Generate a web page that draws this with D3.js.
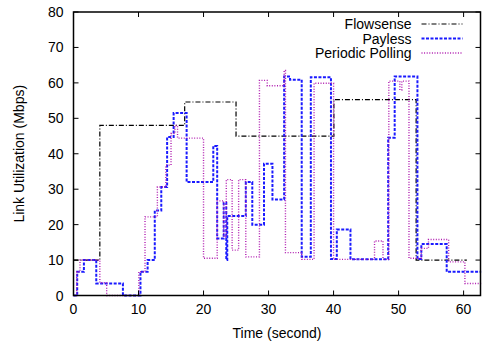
<!DOCTYPE html>
<html>
<head>
<meta charset="utf-8">
<script src="https://cdn.jsdelivr.net/npm/d3@7"></script>
<style>
  body { margin: 0; background: #fff; }
  svg text { font-family: "Liberation Sans", Arial, sans-serif; font-size: 14px; fill: #000; }
</style>
</head>
<body>
<div id="chart"></div>
<script>
// step data, value holds from t[i] until t[i+1]
const flowT = [0, 4.05, 17.1, 25.0, 40.05, 52.7, 60.5];
const flowV = [10, 48, 54.6, 45, 55.3, 10, 10];

const payT = [0, 0.57, 1.6, 3.5, 7.6, 10.3, 11.4, 12.5, 13.5, 14.4, 15.4, 17.4, 21.5, 22.1, 23.1, 23.5, 23.65, 26.5, 27.5, 29.3, 30.6, 32.4, 33.3, 35.1, 36.5, 39.6, 40.5, 42.6, 48.4, 49.4, 52.9, 53.5, 57.4, 62.7];
const payV = [0, 6.7, 10, 3.4, 0, 6.7, 10, 24, 30.6, 44.7, 51.5, 32, 42.2, 16.1, 26.2, 10, 22.4, 32, 20, 37.2, 27.1, 61.8, 60.9, 10.9, 61.6, 10.3, 18.6, 10.2, 44.5, 61.8, 10.3, 14.5, 6.7, 6.7];

const pollT = [0, 0.5, 1.0, 4.05, 5.1, 10.05, 11.0, 12.9, 14.2, 15.0, 15.6, 16.0, 20.0, 22.1, 23.1, 23.5, 24.4, 25.4, 26.5, 28.6, 29.8, 32.4, 32.6, 35.1, 37.0, 40.0, 46.3, 47.6, 48.5, 50.2, 50.5, 51.6, 53.5, 54.6, 57.7, 60.2, 62.7];
const pollV = [0, 6.7, 10, 3.6, 0, 6.7, 22.2, 30.6, 36.8, 45.7, 48, 44.4, 10.5, 26.7, 16.5, 32.7, 12.8, 32.7, 10.9, 60.7, 59.2, 63.5, 12.1, 10.2, 59.9, 10.2, 15.4, 10.2, 60.5, 58, 60.5, 10.5, 13.3, 15.8, 9.5, 3.4, 3.4];

const xTicks = [0, 10, 20, 30, 40, 50, 60];
const yTicks = [0, 10, 20, 30, 40, 50, 60, 70, 80];

const series = [
  {name: "Flowsense", t: flowT, v: flowV, color: "#000000", width: 1.2, dash: "5,2,1,2"},
  {name: "Payless", t: payT, v: payV, color: "#1a1aff", width: 2, dash: "3,1.5"},
  {name: "Periodic Polling", t: pollT, v: pollV, color: "#b01cb0", width: 1.4, dash: "1,1.6"}
];

const W = 482, H = 343;
const pLeft = 73.5, pRight = 480.5, pTop = 12, pBottom = 295.5;

const x = d3.scaleLinear().domain([0, 62.6]).range([pLeft, pRight]);
const y = d3.scaleLinear().domain([0, 80]).range([pBottom, pTop]);

const svg = d3.select("#chart").append("svg")
  .attr("width", W).attr("height", H);

const line = d3.line()
  .x(d => x(d[0]))
  .y(d => y(d[1]))
  .curve(d3.curveStepAfter);

const plot = svg.append("g");
series.forEach(function(s) {
  const pts = s.t.map((t, i) => [t, s.v[i]]);
  plot.append("path")
    .datum(pts)
    .attr("fill", "none")
    .attr("stroke", s.color)
    .attr("stroke-width", s.width)
    .attr("stroke-dasharray", s.dash)
    .attr("d", line);
});

// axes, gnuplot style: ticks inside on every side
const tickLen = 5;
const ax = svg.append("g").attr("stroke", "#000").attr("stroke-width", 1);
xTicks.forEach(function(t) {
  ax.append("line").attr("x1", x(t)).attr("x2", x(t)).attr("y1", pBottom).attr("y2", pBottom - tickLen);
  ax.append("line").attr("x1", x(t)).attr("x2", x(t)).attr("y1", pTop).attr("y2", pTop + tickLen);
});
yTicks.forEach(function(v) {
  ax.append("line").attr("x1", pLeft).attr("x2", pLeft + tickLen).attr("y1", y(v)).attr("y2", y(v));
  ax.append("line").attr("x1", pRight).attr("x2", pRight - tickLen).attr("y1", y(v)).attr("y2", y(v));
});

svg.append("rect")
  .attr("x", pLeft).attr("y", pTop)
  .attr("width", pRight - pLeft).attr("height", pBottom - pTop)
  .attr("fill", "none").attr("stroke", "#000").attr("stroke-width", 1.5);

svg.selectAll(".xlab").data(xTicks).enter().append("text")
  .attr("x", d => x(d)).attr("y", pBottom + 18.5)
  .attr("text-anchor", "middle").text(d => d);

svg.selectAll(".ylab").data(yTicks).enter().append("text")
  .attr("x", pLeft - 10).attr("y", d => y(d) + 5)
  .attr("text-anchor", "end").text(d => d);

svg.append("text")
  .attr("x", (pLeft + pRight) / 2).attr("y", 338)
  .attr("text-anchor", "middle").text("Time (second)");

svg.append("text")
  .attr("transform", "translate(24," + ((pTop + pBottom) / 2) + ") rotate(-90)")
  .attr("text-anchor", "middle").text("Link Utilization (Mbps)");

// legend
const legend = svg.append("g");
series.forEach(function(s, i) {
  const ly = 24 + i * 14.5;
  legend.append("text")
    .attr("x", 411.5).attr("y", ly + 5)
    .attr("text-anchor", "end").text(s.name);
  legend.append("line")
    .attr("x1", 421.5).attr("x2", 462.5)
    .attr("y1", ly).attr("y2", ly)
    .attr("stroke", s.color)
    .attr("stroke-width", s.width)
    .attr("stroke-dasharray", s.dash);
});
</script>
</body>
</html>
